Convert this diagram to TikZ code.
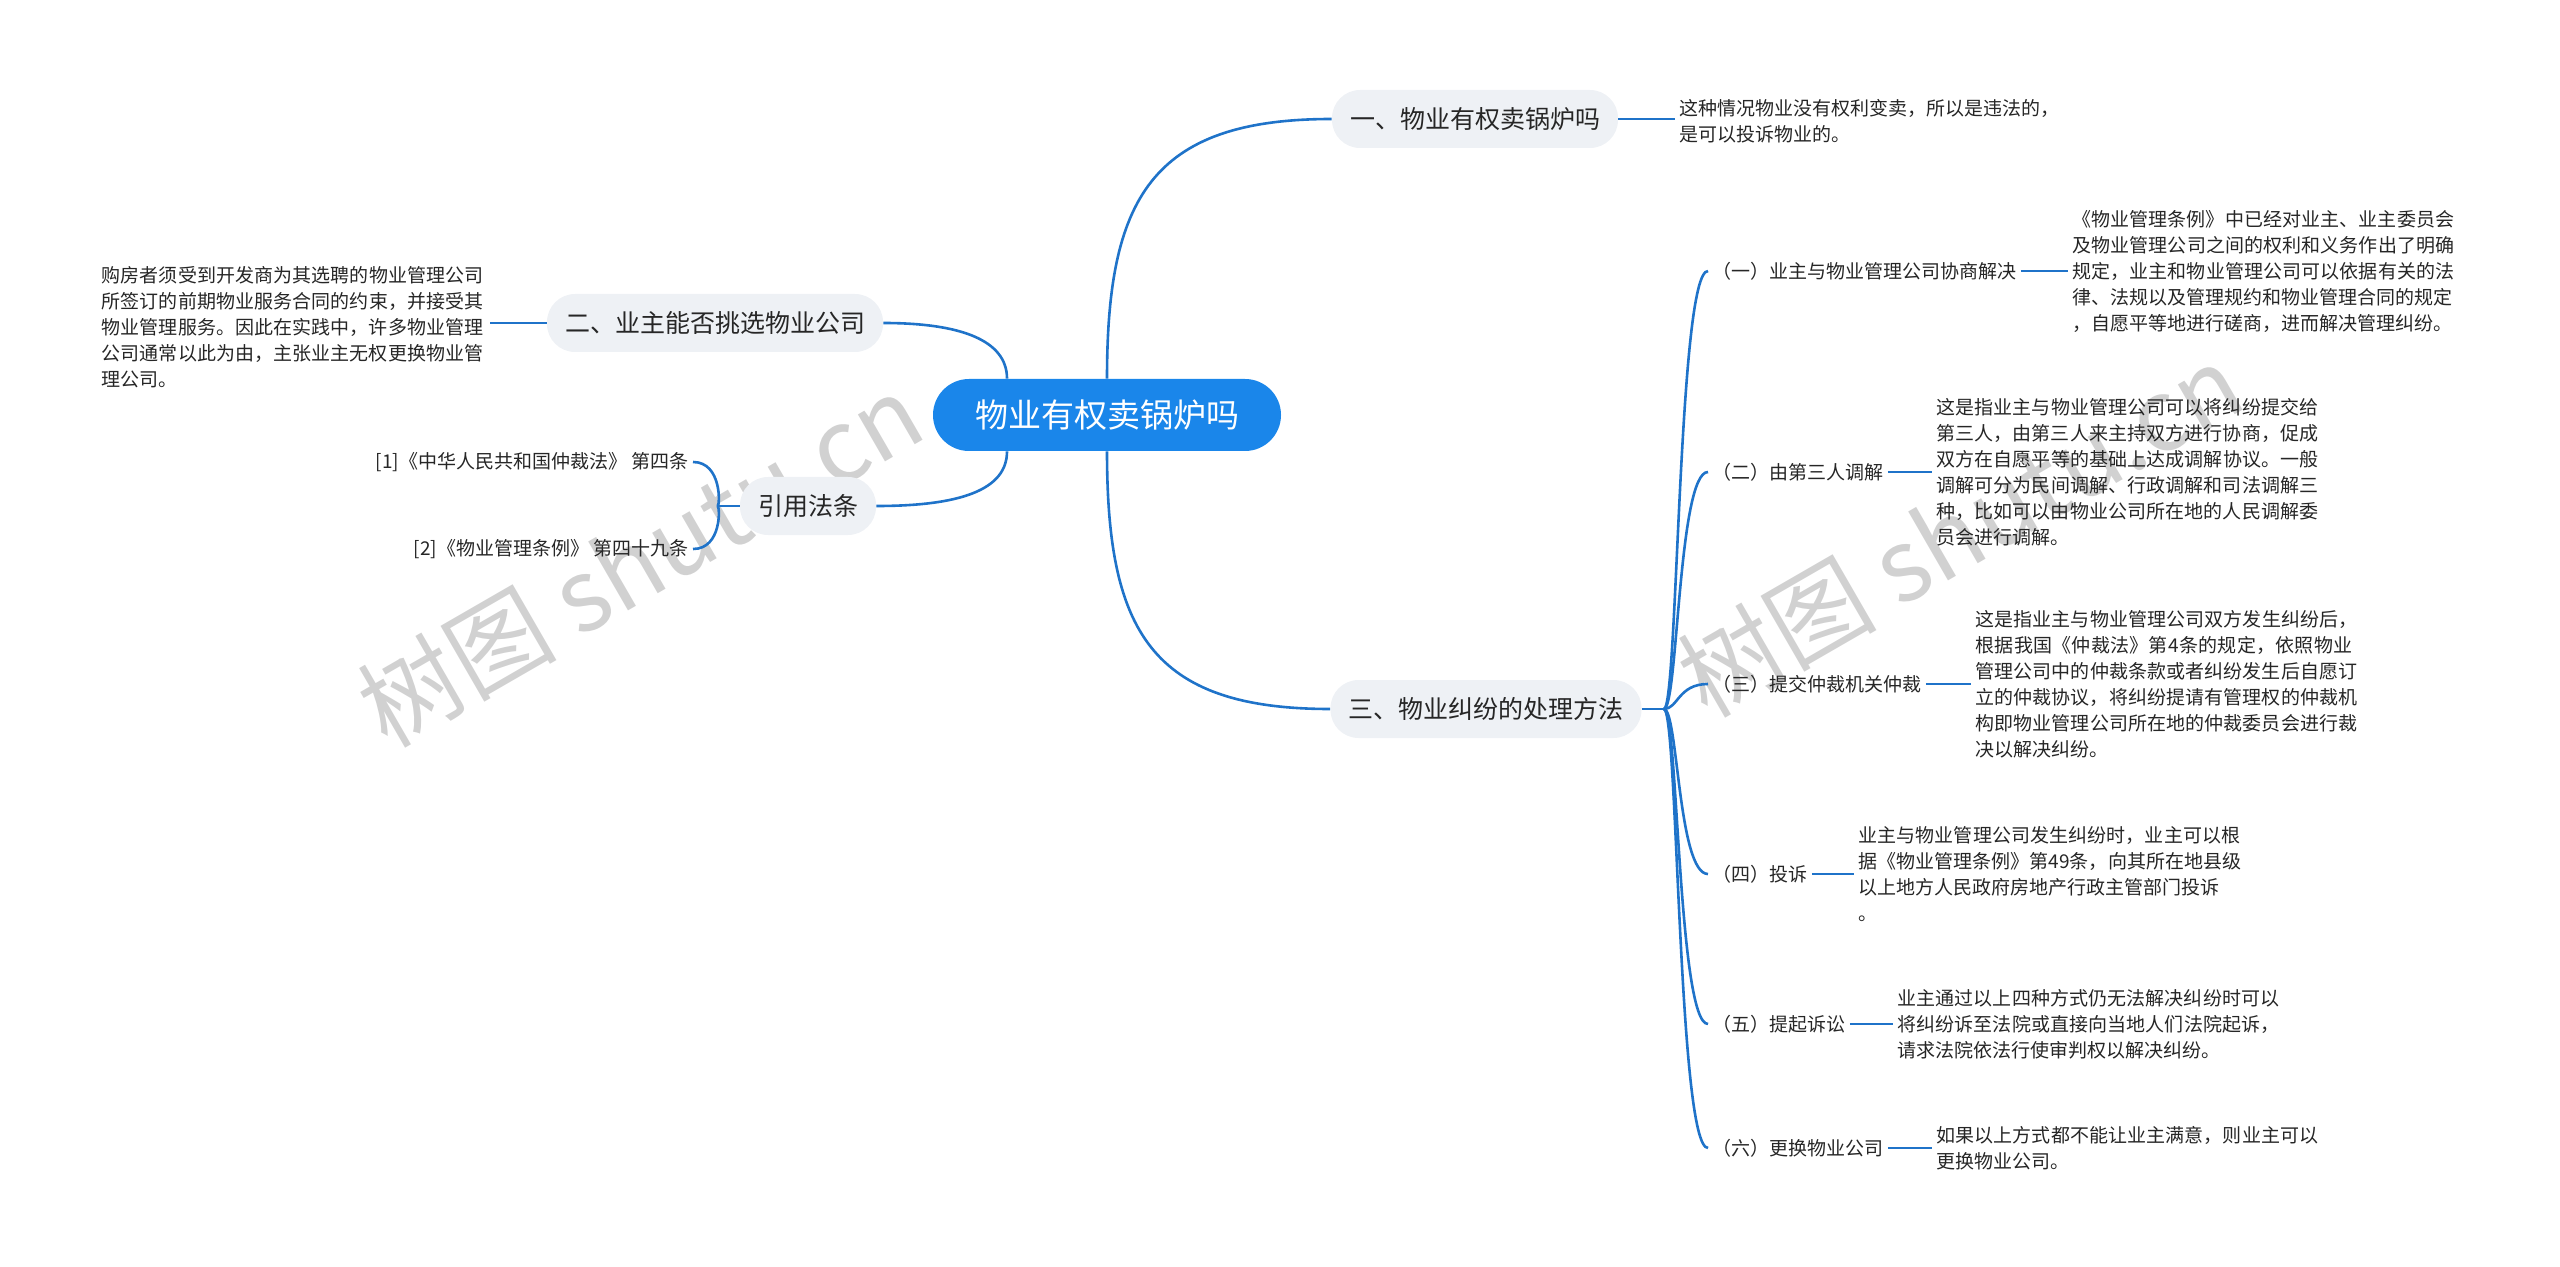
\documentclass[tikz,border=0pt]{standalone}
\usepackage{fontspec}
\setmainfont{Noto Sans CJK SC}
\XeTeXlinebreaklocale "zh"
\XeTeXlinebreakskip=0pt plus 1pt
\definecolor{linkblue}{HTML}{1F73C9}
\definecolor{rootblue}{HTML}{1A86EA}
\definecolor{branchgray}{HTML}{EEF1F5}
\tikzset{
  rootnode/.style={fill=rootblue,text=white,rounded corners=18pt,minimum width=174pt,minimum height=36pt,font=\fontsize{16.5}{20}\selectfont},
  branchnode/.style={fill=branchgray,text=black!85,rounded corners=14pt,minimum height=29pt,inner xsep=9pt,font=\fontsize{12.5}{15}\selectfont},
  labelnode/.style={text=black!85,inner sep=2pt,font=\fontsize{9.5}{12}\selectfont},
  leafnode/.style={text=black!85,align=left,inner sep=2pt,text width=192pt,font=\fontsize{9.5}{13}\selectfont},
  link/.style={draw=linkblue,line width=1.3pt}
}
\begin{document}
\begin{tikzpicture}[x=0.5pt,y=-0.5pt]
    \useasboundingbox (0,0) rectangle (2560,1267);
    % watermark
    \node[text=black!18,rotate=30,font=\fontsize{50}{54}\selectfont] at (640,560) {树图 shutu.cn};
    \node[text=black!18,rotate=30,font=\fontsize{50}{54}\selectfont] at (1960,530) {树图 shutu.cn};
    % root and branches
    \node[rootnode] at (1107,415) (root) {物业有权卖锅炉吗};
    \node[branchnode] at (1475,119) (sell) {一、物业有权卖锅炉吗};
    \node[branchnode] at (715,323) (pick) {二、业主能否挑选物业公司};
    \node[branchnode] at (808,506) (laws) {引用法条};
    \node[branchnode] at (1486,709) (ways) {三、物业纠纷的处理方法};
    \draw[link] (root.north) .. controls (1107,200) and (1150,119) .. (sell.west);
    \draw[link] (root.south) .. controls (1107,630) and (1150,709) .. (ways.west);
    \draw[link] ([xshift=-50pt]root.north) .. controls (1007,340) and (960,323) .. (pick.east);
    \draw[link] ([xshift=-50pt]root.south) .. controls (1007,490) and (960,506) .. (laws.east);
    % leaves of the first three branches
    \node[leafnode,anchor=west,text width=] at (1675,121) (sellinfo) {这种情况物业没有权利变卖，所以是违法的，\\是可以投诉物业的。};
    \draw[link] (sell.east) -- (sellinfo.west |- sell.east);
    \node[leafnode,anchor=east] at (490,327) (pickinfo) {购房者须受到开发商为其选聘的物业管理公司所签订的前期物业服务合同的约束，并接受其物业管理服务。因此在实践中，许多物业管理公司通常以此为由，主张业主无权更换物业管理公司。};
    \draw[link] (pick.west) -- (pickinfo.east |- pick.west);
    \node[labelnode,anchor=east] at (693,462) (lawone) {[1]《中华人民共和国仲裁法》 第四条};
    \node[labelnode,anchor=east] at (693,549) (lawtwo) {[2]《物业管理条例》 第四十九条};
    \draw[link] (laws.west) -- ++(-22,0) coordinate (lawfork);
    \draw[link] (lawfork) .. controls (720,506) and (722,462) .. (lawone.east);
    \draw[link] (lawfork) .. controls (720,506) and (722,549) .. (lawtwo.east);
    % ways of handling disputes
    \draw[link] (ways.east) -- ++(22,0) coordinate (wayfork);
    \node[labelnode,anchor=west] at (1708,271) (wone) {（一）业主与物业管理公司协商解决};
    \node[labelnode,anchor=west] at (1708,472) (wtwo) {（二）由第三人调解};
    \node[labelnode,anchor=west] at (1708,684) (wthree) {（三）提交仲裁机关仲裁};
    \node[labelnode,anchor=west] at (1708,874) (wfour) {（四）投诉};
    \node[labelnode,anchor=west] at (1708,1024) (wfive) {（五）提起诉讼};
    \node[labelnode,anchor=west] at (1708,1148) (wsix) {（六）更换物业公司};
    \foreach \w in {wone,wtwo,wthree,wfour,wfive,wsix}
        \draw[link] (wayfork) .. controls (1678,709) and (1678,709 |- \w.west) .. (\w.west);
    \node[leafnode,anchor=west] at (2068,271) (oneinfo) {《物业管理条例》中已经对业主、业主委员会及物业管理公司之间的权利和义务作出了明确规定，业主和物业管理公司可以依据有关的法律、法规以及管理规约和物业管理合同的规定\\，自愿平等地进行磋商，进而解决管理纠纷。};
    \node[leafnode,anchor=west] at (1932,472) (twoinfo) {这是指业主与物业管理公司可以将纠纷提交给第三人，由第三人来主持双方进行协商，促成双方在自愿平等的基础上达成调解协议。一般调解可分为民间调解、行政调解和司法调解三种，比如可以由物业公司所在地的人民调解委员会进行调解。};
    \node[leafnode,anchor=west] at (1971,684) (threeinfo) {这是指业主与物业管理公司双方发生纠纷后，根据我国《仲裁法》第4条的规定，依照物业管理公司中的仲裁条款或者纠纷发生后自愿订立的仲裁协议，将纠纷提请有管理权的仲裁机构即物业管理公司所在地的仲裁委员会进行裁决以解决纠纷。};
    \node[leafnode,anchor=west] at (1854,874) (fourinfo) {业主与物业管理公司发生纠纷时，业主可以根据《物业管理条例》第49条，向其所在地县级以上地方人民政府房地产行政主管部门投诉\\。};
    \node[leafnode,anchor=west] at (1893,1024) (fiveinfo) {业主通过以上四种方式仍无法解决纠纷时可以将纠纷诉至法院或直接向当地人们法院起诉，请求法院依法行使审判权以解决纠纷。};
    \node[leafnode,anchor=west] at (1932,1148) (sixinfo) {如果以上方式都不能让业主满意，则业主可以更换物业公司。};
    \draw[link] (wone.east) -- (oneinfo.west |- wone.east);
    \draw[link] (wtwo.east) -- (twoinfo.west |- wtwo.east);
    \draw[link] (wthree.east) -- (threeinfo.west |- wthree.east);
    \draw[link] (wfour.east) -- (fourinfo.west |- wfour.east);
    \draw[link] (wfive.east) -- (fiveinfo.west |- wfive.east);
    \draw[link] (wsix.east) -- (sixinfo.west |- wsix.east);
\end{tikzpicture}
\end{document}
